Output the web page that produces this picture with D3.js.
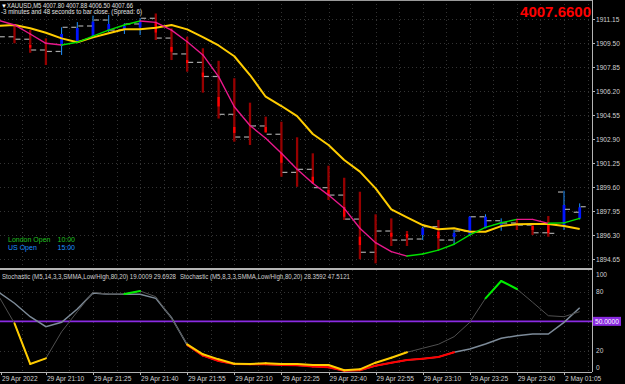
<!DOCTYPE html>
<html>
<head>
<meta charset="utf-8">
<script src="https://cdn.jsdelivr.net/npm/d3@7"></script>
<style>
  html, body { margin: 0; background: #000; overflow: hidden; }
  svg { display: block; font-family: "Liberation Sans", Arial, sans-serif; }
</style>
</head>
<body>
<svg id="chart" width="625" height="384"></svg>
<script>
// XAUUSD M5 bars, 29 Apr 20:55 .. 2 May 01:10 (38 bars)
const barOpen  = [1910.21,1909.95,1909.78,1909.04,1908.94,1910.60,1910.69,1911.10,1910.41,1910.83,1911.22,1909.86,1908.77,1908.19,1907.22,1904.62,1903.06,1903.82,1903.25,1900.63,1900.84,1899.58,1899.07,1897.42,1895.14,1896.60,1895.98,1896.05,1896.90,1895.98,1896.60,1897.58,1897.31,1897.15,1897.01,1896.48,1899.28,1897.89];
const barHigh  = [1910.55,1910.76,1910.41,1909.84,1910.60,1910.96,1911.40,1911.45,1910.88,1911.24,1911.55,1910.53,1909.95,1909.16,1908.30,1907.10,1905.42,1904.46,1904.11,1903.04,1901.94,1901.09,1900.26,1899.30,1897.75,1897.47,1896.60,1896.90,1897.36,1896.67,1897.63,1897.75,1897.47,1897.42,1897.15,1897.63,1899.37,1898.50];
const barLow   = [1909.73,1909.50,1908.85,1908.01,1908.70,1909.54,1909.95,1910.28,1910.14,1910.07,1909.73,1908.35,1907.55,1906.11,1904.33,1902.74,1902.51,1903.34,1900.33,1899.64,1899.88,1898.73,1897.36,1894.66,1894.38,1895.57,1895.57,1895.98,1895.29,1895.64,1896.26,1896.79,1896.62,1896.67,1896.33,1896.21,1896.67,1897.40];
const barClose = [1909.95,1909.78,1909.04,1908.94,1910.60,1910.69,1911.10,1910.41,1910.83,1911.22,1909.86,1908.77,1908.19,1907.22,1904.62,1903.06,1903.82,1903.25,1900.63,1900.84,1899.58,1899.07,1897.42,1895.14,1896.60,1895.98,1896.05,1896.90,1895.98,1896.60,1897.58,1897.31,1897.15,1897.01,1896.48,1896.44,1898.09,1898.27];
const bodyTop  = [null,null,1909.38,null,1910.14,1910.55,1910.99,1910.83,1910.69,1910.99,1910.90,1909.25,1908.35,1907.49,1905.81,1903.75,null,1903.75,1901.96,null,1900.33,1899.42,1898.25,1896.21,null,1896.48,1896.39,1896.81,1896.55,1896.46,1897.58,1897.58,1897.24,null,1896.94,1897.01,1898.39,1898.23];
const bodyBot  = [null,null,1909.20,null,1909.31,1909.61,1910.00,1910.35,1910.41,1910.59,1910.24,1908.92,1908.15,1907.18,1905.16,1903.34,null,1903.40,1901.29,null,1899.88,1899.07,1897.58,1895.64,null,1896.21,1896.15,1896.33,1896.10,1896.19,1896.33,1896.79,1896.94,null,1896.67,1896.46,1896.90,1897.47];
const barDir   = [-1,-1,-1,-1,1,1,1,1,1,1,-1,-1,-1,-1,-1,-1,-1,-1,-1,-1,-1,-1,-1,-1,-1,-1,-1,1,-1,1,1,1,1,-1,-1,-1,1,1];

// moving averages
const maSlow = [1910.71,1910.76,1910.53,1910.23,1909.84,1909.57,1909.91,1910.19,1910.46,1910.46,1910.57,1910.76,1910.46,1909.93,1909.35,1908.61,1907.32,1905.83,1905.19,1904.50,1903.27,1902.51,1901.48,1900.68,1899.53,1898.09,1897.54,1897.01,1896.72,1896.79,1896.55,1896.55,1896.94,1897.06,1897.08,1897.08,1896.94,1896.74];
const maFast = [1911.07,1910.76,1910.14,1909.50,1909.38,1909.57,1910.00,1910.41,1910.76,1911.03,1910.94,1910.41,1909.61,1908.70,1907.21,1905.14,1903.85,1902.97,1901.94,1900.84,1899.88,1899.07,1898.16,1896.79,1895.80,1895.18,1894.88,1895.02,1895.29,1895.69,1896.33,1896.85,1897.17,1897.40,1897.40,1897.13,1897.16,1897.47];

// stochastic main lines
const stoch14 = [79.4,68.3,54.7,44.6,49.0,62.5,78.7,77.4,77.4,77.4,73.3,53.7,26.1,15.3,9.9,6.9,6.6,6.6,5.9,5.6,4.3,3.5,0.0,0.5,5.2,8.2,10.9,12.2,14.0,18.7,22.0,27.1,32.9,35.5,37.2,37.2,49.0,63.8];
const stoch8  = [75.3,48.0,6.9,12.6,39.5,59.8,79.4,77.4,77.7,80.7,74.9,53.1,26.8,16.7,11.6,7.2,6.9,7.6,6.9,6.9,5.9,5.9,0.5,1.5,8.2,13.2,18.7,22.8,26.8,34.5,49.0,73.3,90.8,82.7,69.3,55.7,54.7,59.8];

const priceTicks = [1911.15,1909.50,1907.85,1906.20,1904.55,1902.90,1901.25,1899.60,1897.95,1896.30,1894.65];
const stochTicks = [100, 80, 20, 0];
const timeBars = [0,3,6,9,12,15,18,21,24,27,30,33,36];
const timeLabels = ['29 Apr 2022','29 Apr 21:10','29 Apr 21:25','29 Apr 21:40','29 Apr 21:55','29 Apr 22:10','29 Apr 22:25','29 Apr 22:40','29 Apr 22:55','29 Apr 23:10','29 Apr 23:25','29 Apr 23:40','2 May 01:05'];

const svg = d3.select('#chart');
const right = 592, mainBottom = 268, subTop = 270, subBottom = 372;

const x = d3.scaleLinear().domain([0, 37]).range([-1.2, 579.7]);
const y = d3.scaleLinear().domain([1894.65, 1911.15]).range([259.4, 19.3]);
const ys = d3.scaleLinear().domain([0, 100]).range([370.8, 271.9]);

svg.append('rect').attr('width', 625).attr('height', 384).attr('fill', '#000');

const defs = svg.append('defs');
defs.append('clipPath').attr('id', 'clipMain').append('rect')
  .attr('x', 0).attr('y', 1).attr('width', right).attr('height', mainBottom - 1);
defs.append('clipPath').attr('id', 'clipSub').append('rect')
  .attr('x', 0).attr('y', subTop).attr('width', right).attr('height', subBottom - subTop);

const main = svg.append('g').attr('clip-path', 'url(#clipMain)');
const sub = svg.append('g').attr('clip-path', 'url(#clipSub)');

// grid
const gridColor = '#333';
d3.range(0, 38, 1.5).forEach(i => {
  [[0, mainBottom, main], [subTop, subBottom, sub]].forEach(([a, b, g]) => {
    g.append('line')
      .attr('x1', Math.round(x(i)) + 0.5).attr('x2', Math.round(x(i)) + 0.5)
      .attr('y1', a).attr('y2', b)
      .attr('stroke', gridColor).attr('stroke-dasharray', '1,3');
  });
});
priceTicks.forEach(p => {
  main.append('line')
    .attr('x1', 0).attr('x2', right)
    .attr('y1', Math.round(y(p)) + 0.5).attr('y2', Math.round(y(p)) + 0.5)
    .attr('stroke', gridColor).attr('stroke-dasharray', '1,3');
});
[80, 20].forEach(v => {
  sub.append('line')
    .attr('x1', 0).attr('x2', right)
    .attr('y1', Math.round(ys(v)) + 0.5).attr('y2', Math.round(ys(v)) + 0.5)
    .attr('stroke', gridColor).attr('stroke-dasharray', '1,3');
});

// bars
barHigh.forEach((h, i) => {
  const down = barDir[i] < 0;
  main.append('line')
    .attr('x1', x(i)).attr('x2', x(i))
    .attr('y1', y(h)).attr('y2', y(barLow[i]))
    .attr('stroke', down ? '#960000' : '#1e90ff')
    .attr('stroke-width', down ? 2.3 : 1);
  if (bodyTop[i] !== null) {
    main.append('line')
      .attr('x1', x(i)).attr('x2', x(i))
      .attr('y1', y(bodyTop[i])).attr('y2', y(bodyBot[i]))
      .attr('stroke', down ? '#ff0000' : '#0014ff')
      .attr('stroke-width', down ? 2.3 : 2.8);
  }
  main.append('line')
    .attr('x1', x(i) - 6).attr('x2', x(i) - 1)
    .attr('y1', y(barOpen[i])).attr('y2', y(barOpen[i]))
    .attr('stroke', '#a8a8a8').attr('stroke-width', 1.2);
  main.append('line')
    .attr('x1', x(i) + 1).attr('x2', x(i) + 6)
    .attr('y1', y(barClose[i])).attr('y2', y(barClose[i]))
    .attr('stroke', '#a8a8a8').attr('stroke-width', 1.2);
});

// slow MA (yellow)
main.append('path')
  .datum(maSlow)
  .attr('fill', 'none').attr('stroke', '#ffcc00').attr('stroke-width', 2)
  .attr('stroke-linejoin', 'round')
  .attr('d', d3.line().x((d, i) => x(i)).y(d => y(d)));

// fast MA, green when rising, magenta otherwise
maFast.forEach((v, i) => {
  if (i === 0) return;
  main.append('line')
    .attr('x1', x(i - 1)).attr('y1', y(maFast[i - 1]))
    .attr('x2', x(i)).attr('y2', y(v))
    .attr('stroke', v > maFast[i - 1] ? '#00e000' : '#e8188c')
    .attr('stroke-width', 1.4).attr('stroke-linecap', 'round');
});

// 50 level
sub.append('line')
  .attr('x1', 0).attr('x2', right)
  .attr('y1', ys(50)).attr('y2', ys(50))
  .attr('stroke', '#8a2be2').attr('stroke-width', 1.6);

// stochastics
function drawStoch(vals, base, baseWidth, lowColor) {
  sub.append('path')
    .datum(vals)
    .attr('fill', 'none').attr('stroke', base).attr('stroke-width', baseWidth)
    .attr('d', d3.line().x((d, i) => x(i)).y(d => ys(d)));
  vals.forEach((v, i) => {
    if (i === 0 || (v >= 20 && v <= 80)) return;
    sub.append('line')
      .attr('x1', x(i - 1)).attr('y1', ys(vals[i - 1]))
      .attr('x2', x(i)).attr('y2', ys(v))
      .attr('stroke', v < 20 ? lowColor : '#00ee00')
      .attr('stroke-width', 2).attr('stroke-linecap', 'round');
  });
}
drawStoch(stoch14, '#7d8b99', 1.5, '#ff0000');
drawStoch(stoch8, '#505050', 1, '#ffcc00');

// frame
svg.append('line').attr('x1', 0).attr('x2', right).attr('y1', 0.5).attr('y2', 0.5)
  .attr('stroke', '#9a9a9a');
svg.append('rect').attr('x', 0).attr('y', mainBottom).attr('width', right).attr('height', 2)
  .attr('fill', '#b4b4b4');
svg.append('line').attr('x1', right + 0.5).attr('x2', right + 0.5).attr('y1', 0).attr('y2', subBottom)
  .attr('stroke', '#b4b4b4');
svg.append('line').attr('x1', 0).attr('x2', right).attr('y1', subBottom + 0.5).attr('y2', subBottom + 0.5)
  .attr('stroke', '#b4b4b4');

// price axis
const axisText = '#d0d0d0';
priceTicks.forEach(p => {
  svg.append('line').attr('x1', right).attr('x2', right + 3)
    .attr('y1', Math.round(y(p)) + 0.5).attr('y2', Math.round(y(p)) + 0.5).attr('stroke', '#b4b4b4');
  svg.append('text')
    .attr('x', 596).attr('y', y(p) + 2.4)
    .attr('font-size', '6.6px').attr('fill', axisText)
    .text(p.toFixed(2));
});

// stochastic axis
stochTicks.forEach(v => {
  const ty = Math.min(Math.max(ys(v), 275), 368);
  svg.append('text')
    .attr('x', 596).attr('y', ty + 2.4)
    .attr('font-size', '6.6px').attr('fill', axisText)
    .text(v);
});
svg.append('rect').attr('x', 593).attr('y', ys(50) - 4.5).attr('width', 28).attr('height', 9)
  .attr('fill', '#8a2be2');
svg.append('text')
  .attr('x', 595).attr('y', ys(50) + 2.4)
  .attr('font-size', '6.6px').attr('fill', '#ffffff')
  .text('50.0000');

// time axis
timeBars.forEach((b, k) => {
  const tx = Math.max(x(b), 1);
  svg.append('line').attr('x1', Math.round(tx) + 0.5).attr('x2', Math.round(tx) + 0.5)
    .attr('y1', subBottom).attr('y2', subBottom + 3).attr('stroke', '#b4b4b4');
  svg.append('text')
    .attr('x', tx + 1).attr('y', 381)
    .attr('font-size', '6.6px').attr('fill', axisText)
    .text(timeLabels[k]);
});

// header texts
svg.append('text').attr('x', 1).attr('y', 7.5).attr('font-size', '6px').attr('fill', '#ffffff').text('▼');
svg.append('text').attr('x', 7).attr('y', 7.5).attr('font-size', '6.8px').attr('fill', '#e0e0e0')
  .attr('textLength', 126).attr('lengthAdjust', 'spacingAndGlyphs')
  .text('XAUUSD,M5  4007.80 4007.88 4006.50 4007.66');
svg.append('text').attr('x', 1).attr('y', 14).attr('font-size', '6.8px').attr('fill', '#e0e0e0')
  .attr('textLength', 141).attr('lengthAdjust', 'spacingAndGlyphs')
  .text('-3 minutes and 48 seconds to bar close.  (Spread: 6)');
svg.append('text').attr('x', 591).attr('y', 16.5).attr('text-anchor', 'end')
  .attr('font-size', '15px').attr('font-weight', 'bold').attr('fill', '#ff0000')
  .text('4007.6600');

svg.append('text').attr('x', 8).attr('y', 241.5).attr('font-size', '7px').attr('fill', '#20c020').text('London Open');
svg.append('text').attr('x', 57.5).attr('y', 241.5).attr('font-size', '7px').attr('fill', '#20c020').text('10:00');
svg.append('text').attr('x', 8).attr('y', 249.8).attr('font-size', '7px').attr('fill', '#1e90ff').text('US Open');
svg.append('text').attr('x', 57.5).attr('y', 249.8).attr('font-size', '7px').attr('fill', '#1e90ff').text('15:00');

svg.append('text').attr('x', 2).attr('y', 279).attr('font-size', '6.6px').attr('fill', '#d0d0d0')
  .attr('textLength', 174).attr('lengthAdjust', 'spacingAndGlyphs')
  .text('Stochastic (M5,14,3,3,SMMA,Low/High,80,20) 19.0009 29.6928');
svg.append('text').attr('x', 180).attr('y', 279).attr('font-size', '6.6px').attr('fill', '#d0d0d0')
  .attr('textLength', 170).attr('lengthAdjust', 'spacingAndGlyphs')
  .text('Stochastic (M5,8,3,3,SMMA,Low/High,80,20) 28.3592 47.5121');
</script>
</body>
</html>
